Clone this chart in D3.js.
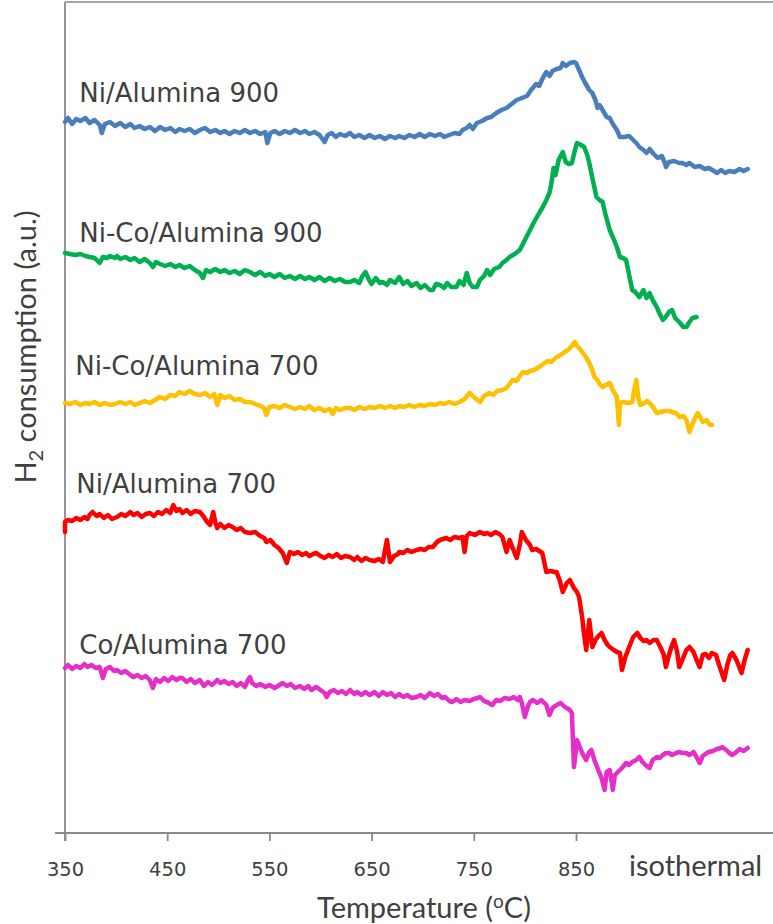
<!DOCTYPE html>
<html>
<head>
<meta charset="utf-8">
<script src="https://cdn.jsdelivr.net/npm/d3@7"></script>
<style>
  html, body { margin: 0; background: #ffffff; }
  svg { display: block; }
</style>
</head>
<body>
<svg id="chart" width="773" height="924"></svg>
<script>
// Temperature-programmed reduction profiles, H2 consumption (a.u.) vs temperature (°C)
const tempTicks = [350, 450, 550, 650, 750, 850];
const isoLabel = "isothermal";
const isoLabelTemp = 967;

const seriesNames = ["Ni/Alumina 900", "Ni-Co/Alumina 900", "Ni-Co/Alumina 700", "Ni/Alumina 700", "Co/Alumina 700"];
const seriesColors = ["#4a7ebb", "#00b050", "#ffc000", "#ff0000", "#e62ec8"];
// label anchor (temperature, a.u.) for each series name
const labelTemps = [364, 364, 360, 361, 364];
const labelValues = [731, 591, 458, 340, 179];

// [temperature °C, H2 consumption a.u.]
const niAl900 = [
  [350,711],[353,715],[357,709],[361,714],[365,712],[370,715],[374,710],[379,713],[384,708],[386,700],
  [389,709],[394,711],[399,707],[404,710],[409,706],[414,709],[418,705],[423,707],[428,704],[433,706],
  [438,702],[443,706],[448,703],[453,705],[458,701],[462,704],[467,702],[472,704],[477,700],[482,703],
  [487,705],[492,701],[497,703],[502,700],[506,702],[511,699],[516,702],[521,700],[526,703],[531,700],
  [536,702],[541,699],[546,701],[548,690],[551,700],[555,702],[560,699],[565,702],[570,700],[575,703],
  [580,700],[585,702],[589,699],[594,701],[599,698],[604,691],[607,698],[611,700],[615,696],[619,699],
  [624,697],[629,700],[633,696],[638,698],[643,695],[648,698],[653,695],[658,697],[663,694],[668,697],
  [673,695],[677,697],[682,695],[687,698],[692,696],[697,699],[702,696],[707,699],[712,697],[717,699],
  [721,696],[726,698],[731,700],[736,699],[739,703],[743,705],[746,708],[749,704],[753,710],[758,712],
  [763,715],[767,716],[772,720],[777,723],[782,725],[787,729],[792,733],[797,735],[802,737],[806,743],
  [811,749],[814,747],[817,754],[821,761],[824,757],[827,762],[831,764],[835,765],[837,770],[840,767],
  [844,770],[848,771],[850,770],[853,763],[856,756],[859,750],[863,743],[866,740],[869,733],[871,725],
  [873,728],[876,723],[880,716],[883,715],[886,709],[890,703],[893,696],[897,696],[902,697],[905,694],
  [909,690],[912,686],[916,683],[919,680],[922,684],[926,679],[930,675],[934,677],[937,670],[938,666],
  [941,671],[946,672],[951,670],[954,670],[958,668],[961,670],[966,666],[971,667],[976,664],[980,665],
  [985,662],[988,660],[992,663],[996,660],[1000,662],[1005,661],[1010,664],[1014,662],[1018,664]
];

const niCoAl900 = [
  [350,580],[355,579],[360,578],[365,579],[370,577],[374,576],[379,575],[384,570],[387,576],[391,575],
  [394,577],[399,575],[401,577],[404,574],[409,576],[414,573],[418,575],[423,571],[428,574],[433,570],
  [436,566],[439,571],[443,569],[448,567],[453,569],[458,566],[462,568],[467,565],[472,567],[477,563],
  [482,560],[485,555],[488,563],[492,561],[497,564],[502,561],[506,563],[511,560],[516,562],[521,559],
  [526,563],[531,561],[536,558],[541,561],[546,557],[550,559],[555,556],[560,559],[565,555],[570,557],
  [575,554],[580,557],[585,554],[589,556],[594,553],[599,556],[604,552],[609,555],[614,552],[619,554],
  [624,551],[629,551],[633,553],[638,550],[641,557],[644,561],[647,554],[650,549],[654,555],[658,550],
  [661,551],[665,548],[668,553],[673,550],[677,556],[681,549],[685,552],[689,547],[694,550],[698,545],
  [702,548],[707,543],[710,543],[713,549],[717,548],[721,545],[724,550],[728,546],[733,546],[736,552],
  [740,548],[743,560],[746,550],[749,546],[753,546],[756,553],[760,557],[763,563],[766,558],[770,564],
  [775,566],[778,570],[782,573],[785,576],[790,579],[795,583],[800,593],[805,603],[809,611],[814,620],
  [817,625],[821,633],[824,640],[826,650],[828,665],[830,658],[833,673],[837,681],[840,671],[843,669],
  [846,670],[849,683],[851,690],[855,688],[858,686],[861,678],[863,670],[866,655],[870,636],[873,633],
  [876,631],[879,618],[883,603],[886,596],[890,586],[893,576],[896,575],[899,573],[902,558],[905,543],
  [908,541],[912,536],[916,543],[919,535],[922,540],[925,533],[929,526],[932,519],[935,513],[937,515],
  [941,521],[944,523],[947,515],[951,511],[955,506],[958,506],[961,511],[964,515],[968,516]
];

const niCoAl700 = [
  [350,430],[355,429],[360,431],[365,428],[370,430],[374,429],[379,431],[384,428],[389,430],[394,428],
  [399,429],[404,431],[409,429],[414,431],[418,428],[423,430],[428,432],[433,430],[438,433],[443,436],
  [448,434],[453,438],[458,437],[462,441],[467,439],[472,442],[477,439],[482,438],[487,440],[492,436],
  [496,439],[499,428],[502,438],[506,435],[511,437],[516,433],[521,434],[526,431],[531,431],[536,429],
  [541,427],[545,425],[547,418],[550,426],[555,427],[560,425],[565,428],[570,426],[575,424],[580,426],
  [585,424],[589,427],[594,423],[599,425],[604,422],[609,424],[612,419],[615,425],[619,423],[624,425],
  [629,425],[633,423],[638,426],[643,424],[648,426],[653,425],[658,427],[663,425],[668,427],[673,425],
  [677,427],[682,426],[687,428],[692,426],[697,428],[702,427],[707,429],[712,428],[717,430],[721,429],
  [726,431],[731,429],[736,431],[741,434],[746,440],[750,436],[756,431],[760,437],[765,440],[769,438],
  [773,442],[778,443],[782,445],[785,449],[788,453],[792,452],[795,457],[798,461],[802,460],[805,462],
  [809,463],[814,466],[818,469],[822,472],[826,471],[831,476],[835,478],[839,481],[842,483],[845,486],
  [849,491],[851,487],[854,484],[856,481],[859,477],[863,470],[866,463],[868,456],[871,453],[873,449],
  [876,446],[879,448],[883,450],[886,443],[890,436],[892,408],[893,430],[897,431],[901,430],[905,431],
  [907,443],[909,453],[911,435],[913,428],[917,430],[920,432],[922,430],[926,425],[929,420],[933,421],
  [937,422],[941,422],[944,421],[948,420],[951,416],[955,417],[958,413],[961,401],[964,409],[967,416],
  [969,420],[972,415],[974,411],[978,413],[980,409],[983,408]
];

const niAl700 = [
  [350,301],[350,311],[353,313],[357,312],[361,315],[365,313],[369,316],[372,314],[374,318],[377,321],
  [381,317],[384,319],[388,315],[392,318],[396,314],[401,316],[405,319],[409,317],[414,321],[417,318],
  [421,320],[425,316],[429,319],[433,320],[437,317],[441,321],[445,319],[449,323],[453,320],[456,328],
  [459,322],[462,324],[465,320],[469,323],[473,319],[477,322],[482,321],[486,316],[489,311],[492,308],
  [495,321],[497,311],[499,305],[502,309],[506,305],[510,308],[514,306],[518,303],[522,305],[526,301],
  [531,300],[536,301],[541,297],[545,295],[547,291],[551,293],[555,288],[559,285],[563,280],[567,270],
  [570,281],[574,279],[578,281],[582,278],[586,280],[589,277],[593,279],[596,280],[600,277],[604,275],
  [608,278],[612,276],[616,279],[620,275],[624,277],[629,276],[633,273],[636,276],[640,272],[644,275],
  [648,273],[653,272],[657,274],[661,271],[665,293],[668,271],[672,277],[676,279],[677,281],[681,280],
  [685,283],[689,281],[694,283],[698,284],[702,283],[706,286],[710,286],[714,291],[717,293],[720,294],
  [723,295],[727,293],[731,296],[736,295],[739,296],[741,281],[743,297],[746,300],[751,298],[756,301],
  [760,299],[763,300],[767,298],[771,301],[775,299],[778,296],[782,281],[785,293],[788,285],[792,275],
  [795,288],[797,301],[801,293],[805,288],[807,283],[811,284],[814,282],[817,280],[821,261],[825,262],
  [829,261],[831,261],[834,253],[837,241],[841,250],[844,253],[848,245],[851,241],[853,236],[856,216],
  [858,198],[860,183],[863,213],[866,186],[869,193],[872,197],[875,200],[878,193],[881,188],[883,186],
  [887,183],[890,181],[893,180],[895,163],[898,175],[902,186],[906,196],[910,200],[913,195],[916,192],
  [919,193],[922,190],[926,193],[929,193],[933,185],[936,178],[938,166],[941,178],[944,188],[946,193],
  [949,181],[951,166],[954,173],[958,183],[961,186],[965,181],[968,173],[971,166],[974,178],[977,179],
  [980,175],[983,180],[987,178],[990,168],[995,153],[998,168],[1001,178],[1003,180],[1007,173],[1012,160],
  [1015,173],[1018,183]
];

const coAl700 = [
  [350,165],[353,168],[357,164],[361,167],[365,165],[369,169],[372,166],[376,168],[380,165],[384,166],
  [387,155],[390,164],[394,166],[398,162],[401,163],[405,160],[409,162],[414,158],[417,156],[421,158],
  [425,155],[429,157],[433,153],[436,145],[439,154],[443,151],[447,155],[451,152],[455,156],[459,153],
  [462,155],[465,155],[469,151],[473,154],[477,150],[482,153],[486,147],[490,151],[494,148],[499,153],
  [502,150],[506,152],[510,149],[514,151],[518,147],[522,150],[526,146],[529,153],[531,156],[533,150],
  [537,147],[541,149],[546,146],[550,148],[555,145],[560,148],[563,150],[567,147],[571,149],[575,145],
  [580,147],[584,144],[588,147],[591,143],[596,146],[600,143],[604,140],[606,136],[609,141],[613,143],
  [617,140],[621,142],[625,139],[629,143],[633,139],[636,141],[640,138],[644,141],[648,138],[653,141],
  [657,137],[661,141],[665,138],[669,140],[673,136],[677,139],[681,136],[685,138],[689,135],[694,136],
  [698,138],[702,135],[707,140],[711,137],[715,139],[719,135],[722,136],[726,132],[729,131],[733,134],
  [737,131],[741,133],[746,132],[750,134],[754,135],[756,136],[760,132],[763,131],[768,128],[772,133],
  [776,132],[780,135],[785,134],[789,136],[793,133],[795,136],[797,130],[800,116],[803,127],[805,131],
  [808,133],[812,130],[816,133],[821,128],[824,118],[827,125],[831,128],[835,130],[839,126],[841,125],
  [844,123],[846,120],[848,66],[850,83],[851,93],[853,88],[856,80],[860,73],[863,81],[865,83],
  [868,73],[871,65],[873,60],[875,55],[878,43],[880,61],[883,63],[885,51],[886,43],[888,58],
  [891,61],[893,63],[895,65],[899,70],[902,68],[905,71],[909,73],[912,76],[915,71],[919,67],
  [922,65],[925,73],[929,76],[932,75],[935,78],[938,80],[941,80],[944,78],[948,80],[951,81],
  [954,80],[958,80],[961,78],[965,81],[968,76],[971,70],[974,77],[978,80],[980,81],[984,82],
  [988,84],[992,85],[993,86],[997,83],[1000,80],[1003,78],[1007,81],[1010,84],[1014,82],[1018,85]
];

const allSeries = [niAl900, niCoAl900, niCoAl700, niAl700, coAl700];

const svg = d3.select("#chart");
const axisColor = "#898989";
const textColor = "#404040";

const x = d3.scaleLinear().domain([350, 850]).range([65, 576]);
const y = d3.scaleLinear().domain([0, 830]).range([833, 3]);

// plot frame: top edge and vertical axis
svg.append("line")
  .attr("x1", x(350)).attr("x2", 773).attr("y1", 2).attr("y2", 2)
  .attr("stroke", axisColor).attr("stroke-width", 1.5);
svg.append("line")
  .attr("x1", x(350)).attr("x2", x(350)).attr("y1", 2).attr("y2", 841)
  .attr("stroke", axisColor).attr("stroke-width", 1.8);

// temperature axis
const xAxis = d3.axisBottom(x).tickValues(tempTicks).tickSize(8).tickSizeOuter(0).tickPadding(21);
const gx = svg.append("g").attr("transform", `translate(0,${y(0)})`).call(xAxis);
gx.select(".domain").remove();
gx.selectAll(".tick line").attr("stroke", axisColor).attr("stroke-width", 1.8);
gx.selectAll(".tick text")
  .attr("font-family", "'DejaVu Sans', Verdana, sans-serif")
  .attr("font-size", 19.5).attr("fill", textColor);
svg.append("line")
  .attr("x1", 55).attr("x2", 773).attr("y1", y(0)).attr("y2", y(0))
  .attr("stroke", axisColor).attr("stroke-width", 1.8);

svg.append("text")
  .attr("x", x(isoLabelTemp)).attr("y", 876)
  .attr("text-anchor", "middle")
  .attr("font-family", "Lato, 'Open Sans', sans-serif")
  .attr("font-size", 29).attr("fill", textColor)
  .text(isoLabel);

// axis titles
const xTitle = svg.append("text")
  .attr("x", 424).attr("y", 918)
  .attr("text-anchor", "middle")
  .attr("font-family", "Lato, 'Open Sans', sans-serif")
  .attr("font-size", 29).attr("fill", textColor);
xTitle.append("tspan").text("Temperature (");
xTitle.append("tspan").attr("font-size", 19).attr("dy", -10).text("o");
xTitle.append("tspan").attr("dy", 10).text("C)");

const yTitle = svg.append("text")
  .attr("transform", "translate(36,347) rotate(-90)")
  .attr("text-anchor", "middle")
  .attr("font-family", "Lato, 'Open Sans', sans-serif")
  .attr("font-size", 29).attr("fill", textColor);
yTitle.append("tspan").text("H");
yTitle.append("tspan").attr("font-size", 20).attr("dy", 7).text("2");
yTitle.append("tspan").attr("dy", -7).text(" consumption (a.u.)");

// profiles
const line = d3.line().x(d => x(d[0])).y(d => y(d[1]));
svg.append("g").selectAll("path")
  .data(allSeries)
  .join("path")
  .attr("d", line)
  .attr("fill", "none")
  .attr("stroke", (d, i) => seriesColors[i])
  .attr("stroke-width", 4.5)
  .attr("stroke-linejoin", "round")
  .attr("stroke-linecap", "round");

// series names
svg.append("g").selectAll("text")
  .data(seriesNames)
  .join("text")
  .attr("x", (d, i) => x(labelTemps[i]))
  .attr("y", (d, i) => y(labelValues[i]))
  .attr("font-family", "'DejaVu Sans', Verdana, sans-serif")
  .attr("font-size", 26)
  .attr("fill", textColor)
  .text(d => d);
</script>
</body>
</html>
